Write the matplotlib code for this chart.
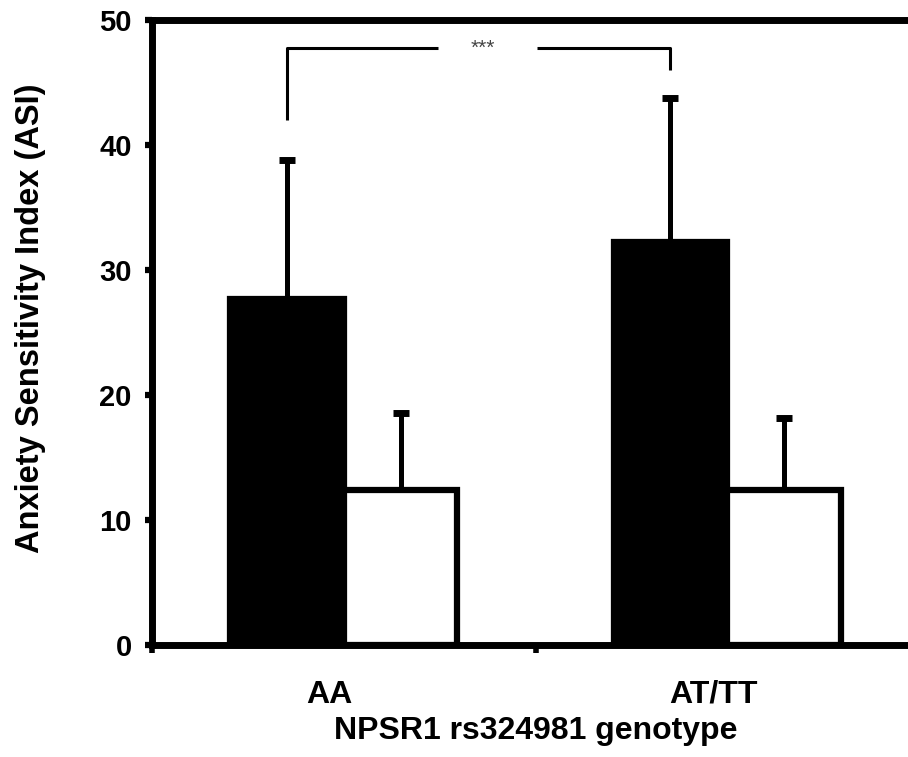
import matplotlib
matplotlib.use("Agg")
import matplotlib.pyplot as plt
import matplotlib.transforms as mtransforms
import numpy as np

plt.rcParams['font.family'] = ['Liberation Sans Narrow', 'Liberation Sans', 'DejaVu Sans']

genotypes = ["AA", "AT/TT"]
group1_means = [27.7, 32.2]   # black bars
group1_err = [11.1, 11.6]
group2_means = [12.4, 12.4]   # white bars
group2_err = [6.2, 5.8]
yticks = [0, 10, 20, 30, 40, 50]
sig_label = "***"

fig = plt.figure(figsize=(9.08, 7.57), dpi=100)
ax = fig.add_axes([152/908, 1-645/757, (919-152)/908, (645-20)/757])

centers = np.arange(len(genotypes)) + 0.5
w = 0.296
off = 0.148
ekw = dict(elinewidth=3.6, capsize=5.5, capthick=5, ecolor='black')
ax.bar(centers - off, group1_means, width=w, color='black', edgecolor='black',
       linewidth=4.5, zorder=2)
ax.errorbar(centers - off, group1_means, yerr=[np.zeros(2), group1_err], fmt='none',
            zorder=1, **ekw)
ax.bar(centers + off, group2_means, width=w, color='white', edgecolor='black',
       linewidth=4.5, zorder=2)
ax.errorbar(centers + off, group2_means, yerr=[np.zeros(2), group2_err], fmt='none',
            zorder=1, **ekw)

ax.set_xlim(0, 2)
ax.set_ylim(0, 50)
ax.set_yticks(yticks)
ax.set_yticklabels([str(t) for t in yticks], fontsize=21, fontweight='bold')
ax.set_xticks([0, 1, 2])
ax.set_xticklabels(['', '', ''])
ax.set_xticks(centers, minor=True)
ax.set_xticklabels(genotypes, minor=True, fontsize=23, fontweight='bold')
ax.tick_params(axis='x', which='minor', length=0, pad=25)
ax.tick_params(axis='x', which='major', length=6, width=4, direction='out')
ax.tick_params(axis='y', length=5, width=4.5, direction='out', pad=9.5)
shift = mtransforms.ScaledTranslation(-14/100, 0, fig.dpi_scale_trans)
for lab in ax.get_xticklabels(minor=True):
    lab.set_transform(lab.get_transform() + shift)

for s in ['left', 'bottom', 'top']:
    ax.spines[s].set_linewidth(5)
ax.spines['right'].set_visible(False)

ax.set_ylabel("Anxiety Sensitivity Index (ASI)", fontsize=23.5, fontweight='bold')
ax.yaxis.label.set_verticalalignment('center')
ax.yaxis.set_label_coords((30-152)/767, (645-318)/625)
ax.set_xlabel("NPSR1 rs324981 genotype", fontsize=23, fontweight='bold')
ax.xaxis.label.set_verticalalignment('center')
ax.xaxis.set_label_coords(0.5, (645-731)/625)

# significance bracket between black bars
xl, xr = centers[0] - off, centers[1] - off
ytop = 47.8
ax.plot([xl, xl, 0.745], [42.0, ytop, ytop], color='black', lw=2.2, solid_capstyle='butt')
ax.plot([1.005, xr, xr], [ytop, ytop, 46.0], color='black', lw=2.2, solid_capstyle='butt')
ax.text(0.862, ytop - 0.1, sig_label, ha='center', va='center', fontsize=15, color='#444444')

fig.savefig("out.png", dpi=100)
